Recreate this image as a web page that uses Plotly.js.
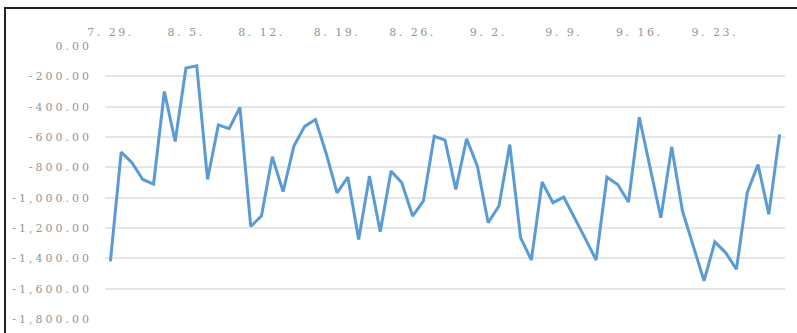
<!DOCTYPE html>
<html>
<head>
<meta charset="utf-8">
<script src="https://cdn.plot.ly/plotly-3.0.1.min.js"></script>
<style>
  html, body { margin: 0; padding: 0; background: #fff; }
  #wrap { position: relative; width: 797px; height: 333px; overflow: hidden; }
  #chart { position: absolute; left: 0; top: 0; width: 797px; height: 333px; }
  #frame { position: absolute; left: 4px; top: 7px; width: 800px; height: 340px;
           border-left: 2px solid #222; border-top: 2px solid #222; pointer-events: none; }
  .xtick text { letter-spacing: 2.5px; }
  .ytick text { letter-spacing: 3px; }
</style>
</head>
<body>
<div id="wrap">
  <div id="chart"></div>
  <div id="frame"></div>
</div>
<script>
const dates = [
  "7/29","7/30","7/31","8/1","8/2","8/3","8/4",
  "8/5","8/6","8/7","8/8","8/9","8/10","8/11",
  "8/12","8/13","8/14","8/15","8/16","8/17","8/18",
  "8/19","8/20","8/21","8/22","8/23","8/24","8/25",
  "8/26","8/27","8/28","8/29","8/30","8/31","9/1",
  "9/2","9/3","9/4","9/5","9/6","9/7","9/8",
  "9/9","9/10","9/11","9/12","9/13","9/14","9/15",
  "9/16","9/17","9/18","9/19","9/20","9/21","9/22",
  "9/23","9/24","9/25","9/26","9/27","9/28","9/29"
];
const values = [
  -1420, -700, -770, -880, -910, -300, -630,
  -145, -130, -880, -520, -545, -405, -1190,
  -1120, -730, -960, -660, -530, -485, -710,
  -968, -865, -1275, -858, -1225, -825, -902,
  -1121, -1022, -595, -621, -946, -612, -792,
  -1165, -1055, -650, -1263, -1411, -897, -1033,
  -996, -1130, -1270, -1411, -865, -913, -1029,
  -470, -810, -1132, -665, -1088, -1318, -1549,
  -1292, -1362, -1472, -967, -781, -1110, -584
];
const xTickVals = ["7/29","8/5","8/12","8/19","8/26","9/2","9/9","9/16","9/23"];
const xTickText = ["7. 29.","8. 5.","8. 12.","8. 19.","8. 26.","9. 2.","9. 9.","9. 16.","9. 23."];
const yTickVals = [0, -200, -400, -600, -800, -1000, -1200, -1400, -1600, -1800];
const yTickText = ["0.00","-200.00","-400.00","-600.00","-800.00","-1,000.00","-1,200.00","-1,400.00","-1,600.00","-1,800.00"];

const tickFont = { family: "DejaVu Serif, Liberation Serif, serif", size: 11, color: "#959595" };

const trace = {
  type: "scatter",
  mode: "lines",
  x: dates,
  y: values,
  line: { color: "#5b9bd5", width: 3, shape: "linear" },
  hoverinfo: "skip"
};

const layout = {
  width: 797,
  height: 333,
  margin: { l: 105, r: 12, t: 46, b: 14, pad: 0 },
  paper_bgcolor: "#ffffff",
  plot_bgcolor: "#ffffff",
  showlegend: false,
  xaxis: {
    type: "category",
    side: "top",
    categoryorder: "array",
    categoryarray: dates,
    range: [-0.5, 62.5],
    tickmode: "array",
    tickvals: xTickVals,
    ticktext: xTickText,
    showgrid: false,
    zeroline: false,
    showline: false,
    ticks: "",
    tickfont: tickFont,
    ticklabelstandoff: 7
  },
  yaxis: {
    range: [-1800, 0],
    tickmode: "array",
    tickvals: yTickVals,
    ticktext: yTickText,
    showgrid: true,
    gridcolor: "#e6e6e6",
    gridwidth: 2,
    zeroline: false,
    showline: false,
    ticks: "",
    tickfont: tickFont,
    ticklabelstandoff: 12
  }
};

Plotly.newPlot("chart", [trace], layout, { displayModeBar: false, staticPlot: true });
</script>
</body>
</html>
